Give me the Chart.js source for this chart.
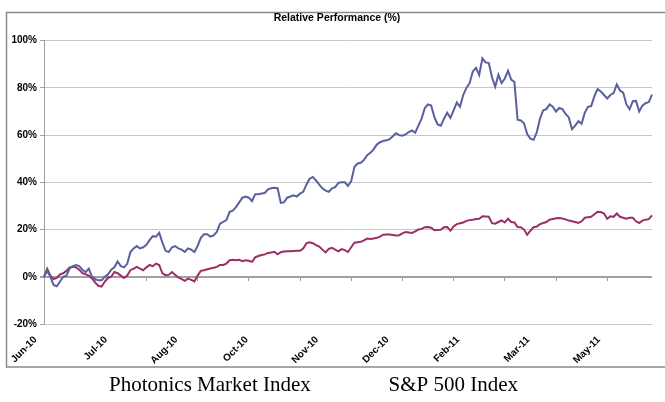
<!DOCTYPE html>
<html>
<head>
<meta charset="utf-8">
<script src="https://cdn.jsdelivr.net/npm/chart.js@4.4.0/dist/chart.umd.min.js"></script>
<style>
  html, body { margin: 0; padding: 0; background: #fff; }
  #wrap { width: 665px; height: 402px; }
</style>
</head>
<body>
<div id="wrap"><canvas id="grafico" width="665" height="402"></canvas></div>
<script>
// series values (% relative performance), one point per category
const photonics = [
  0, 2.5, 0, -3.5, -4, -2, 0, 0.5, 3.5, 4.5,
  5, 4.5, 3, 2, 3.5, 0, -1, -1.5, -1.5, 0,
  1, 3, 4, 6.5, 4.5, 4, 5.5, 10.5, 12, 13,
  12, 12.5, 13.5, 15.5, 17.2, 17, 18.6, 14.5, 11, 10.5,
  12.5, 13, 12, 11.5, 10.5, 12, 11.5, 10.5, 13, 16.5,
  18, 18, 17, 17.5, 19, 22.5, 23.3, 24, 27.5, 28,
  29.5, 31.5, 33.5, 34, 33.5, 32, 35, 35, 35.3, 35.5,
  37, 37.5, 37.7, 37.5, 31.3, 31.5, 33.5, 34, 34.5, 34,
  35.2, 36, 39, 41.5, 42.3, 40.8, 39, 37.5, 36.5, 36,
  37.5, 38, 39.8, 40, 40, 38.5, 40.5, 46.5, 48, 48.3,
  49.5, 51.5, 52.5, 54, 56, 57, 57.5, 57.8, 58.3, 59.5,
  60.8, 60, 59.8, 60.3, 61.3, 62, 61, 64, 67, 71.5,
  73, 72.5, 67.6, 64.5, 64, 67, 69.5, 67.3, 70.5, 73.8,
  72, 77, 80, 82, 87, 88.5, 85.5, 92.5, 90.8, 90.5,
  84.5, 80.5, 85.6, 82, 84, 87.3, 83.5, 82.5, 66.5, 66.2,
  65, 60.5, 58.5, 58, 61.2, 67, 70.5, 71, 73, 72,
  70, 71.5, 71, 69, 67.5, 62.5, 64, 65.9, 64.8, 69.5,
  72, 72.3, 76.5, 79.5, 78.5, 77, 75.5, 77, 77.8, 81.5,
  78.9, 78, 73, 71, 74.4, 74.5, 70, 72.5, 73.5, 74,
  77.2
];
const sp500 = [
  0, 3.4, 0.5, -1, -0.5, 1, 1.5, 2.5, 4, 4.2,
  4, 3, 1.5, 1, 0.5, -0.7, -2.5, -3.8, -4.2, -2,
  -0.5, 0, 2, 1.5, 0.5, -0.5, 0.5, 2.8, 3.5, 4.2,
  3.5, 2.8, 4, 5, 4.5, 5.6, 5, 1.5, 0.7, 0.8,
  2, 0.8, -0.3, -1, -1.7, -0.8, -1.3, -2, 0.5, 2.5,
  2.8, 3.2, 3.5, 3.8, 4.2, 5, 5, 5.6, 7, 7.2,
  7, 7.2, 6.6, 7, 6.8, 6.3, 8.2, 8.8, 9.2, 9.5,
  10.1, 10.3, 10.6, 9.5, 10.4, 10.7, 10.8, 10.8, 10.9, 11,
  11, 12, 14.2, 14.6, 14.2, 13.4, 12.8, 11.5, 10.3, 11.8,
  12.3, 11.5, 10.8, 11.7, 11.3, 10.5, 12.5, 14.4, 14.6, 14.8,
  15.4, 16.2, 16, 16.2, 16.5, 17, 17.8, 17.9, 17.9, 17.7,
  17.5, 17.6, 18.4, 19, 18.8, 18.6, 19.2, 20, 20.3, 21,
  21.1, 20.8, 19.7, 19.8, 19.9, 21, 21.1, 19.5, 21.3, 22.3,
  22.7, 23, 23.7, 24, 24.2, 24.5, 24.6, 25.6, 25.5, 25.4,
  22.7, 22.5, 23.2, 23.9, 23, 24.6, 23.2, 23, 21.1, 21,
  20, 17.8, 19.5, 21, 21.3, 22.3, 22.8, 23.2, 24.2, 24.5,
  24.8, 24.9, 24.7, 24.3, 23.8, 23.5, 23.2, 22.8, 23.5, 25,
  25.2, 25.4, 26.5, 27.5, 27.4, 26.8, 24.6, 25.6, 25.4, 26.8,
  25.4, 25, 24.6, 25, 25, 23.5, 22.8, 23.8, 24.2, 24.4,
  26
];
// tick labels shown every labelEvery categories; tick marks every tickEvery
const tickLabels = ["Jun-10", "Jul-10", "Aug-10", "Oct-10", "Nov-10", "Dec-10", "Feb-11", "Mar-11", "May-11"];
const labelEvery = 22;
const tickEvery = 16;
const seriesNames = ["Photonics Market Index", "S&P 500 Index"];
const categories = photonics.map((_, i) => i);

const axisFont = { family: "'Liberation Sans', Arial", size: 10, weight: "bold" };

// marco gris alrededor del grafico; la leyenda y el titulo se corren un poco a la derecha
const marco = {
  id: "marco",
  afterLayout(chart) {
    chart.legend.left += 25.2;
    chart.titleBlock.left += 8;
    chart.titleBlock.right += 8;
  },
  beforeDraw(chart) {
    const c = chart.ctx;
    c.save();
    c.strokeStyle = "#8a8a8a";
    c.lineWidth = 1.5;
    c.strokeRect(6.5, 12.5, chart.width + 20, chart.legend.top + 2 - 12.5);
    c.restore();
  }
};

const ctx = document.getElementById("grafico").getContext("2d");
const chart = new Chart(ctx, {
  type: "line",
  data: {
    labels: categories,
    datasets: [
      { label: seriesNames[0], data: photonics, borderColor: "#5a5fa0", backgroundColor: "#5a5fa0", borderWidth: 2, pointRadius: 0, tension: 0 },
      { label: seriesNames[1], data: sp500, borderColor: "#9b2f64", backgroundColor: "#9b2f64", borderWidth: 2, pointRadius: 0, tension: 0 }
    ]
  },
  options: {
    responsive: false,
    animation: false,
    layout: { padding: { left: 6, right: 13, top: 0, bottom: -4 } },
    plugins: {
      title: {
        display: true,
        text: "Relative Performance (%)",
        color: "#000",
        font: { family: "'Liberation Sans', Arial", size: 10.5, weight: "bold" },
        padding: { top: 11.7, bottom: 16.4 }
      },
      legend: {
        position: "bottom",
        align: "start",
        labels: {
          color: "#000",
          font: { family: "'Liberation Serif', 'Times New Roman'", size: 21 },
          boxWidth: 57.3,
          boxHeight: 1,
          padding: 10,
          generateLabels(chart) {
            return chart.data.datasets.map((d, i) => ({
              text: d.label,
              fillStyle: "rgba(0,0,0,0)",
              strokeStyle: "rgba(0,0,0,0)",
              lineWidth: 0,
              fontColor: "#000",
              hidden: false,
              datasetIndex: i
            }));
          }
        }
      },
      tooltip: { enabled: false }
    },
    scales: {
      x: {
        type: "category",
        position: "bottom",
        grid: { display: false },
        border: { display: false },
        ticks: {
          autoSkip: false,
          maxRotation: 45,
          minRotation: 45,
          padding: 2,
          labelOffset: -8.5,
          color: "#000",
          font: axisFont,
          callback: (v, i) => (i % labelEvery === 0 ? tickLabels[i / labelEvery] : "")
        },
        afterFit(scale) { scale.height = 41; }
      },
      xMarks: {
        type: "category",
        position: { y: 0 },
        grid: {
          drawOnChartArea: false,
          drawTicks: true,
          tickLength: 4,
          color: (c) => (c.index % tickEvery === 0 ? "#999" : "rgba(0,0,0,0)")
        },
        border: { display: false },
        ticks: { display: false, autoSkip: false },
        afterFit(scale) { scale.height = 0; }
      },
      y: {
        min: -20,
        max: 100,
        ticks: {
          stepSize: 20,
          color: "#000",
          font: axisFont,
          padding: 3,
          callback: (v) => v + "%"
        },
        grid: {
          color: (c) => (c.tick && c.tick.value === 0 ? "#a0a0a0" : "#c8c8c8"),
          lineWidth: (c) => (c.tick && c.tick.value === 0 ? 2 : 1),
          tickColor: "#a0a0a0",
          tickLength: 4
        },
        border: { color: "#a0a0a0", width: 1 },
        afterFit(scale) { scale.width = 38; }
      }
    }
  },
  plugins: [marco]
});
</script>
</body>
</html>
